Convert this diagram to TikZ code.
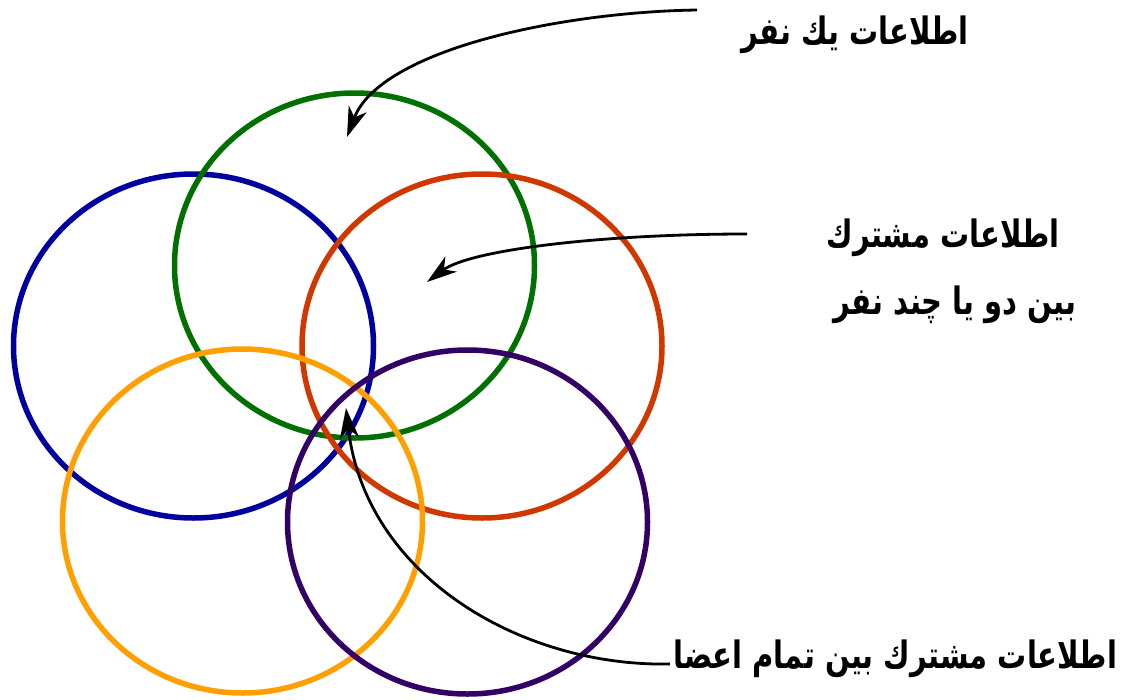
\documentclass[tikz,border=0pt]{standalone}
\usepackage{fontspec}
\usetikzlibrary{arrows.meta}
\TeXXeTstate=1
\newfontfamily\arabicfont[Script=Arabic]{DejaVu Sans}
\definecolor{cblue}{RGB}{0,0,160}
\definecolor{cgreen}{RGB}{0,112,0}
\definecolor{cred}{RGB}{208,56,0}
\definecolor{corange}{RGB}{255,160,0}
\definecolor{cpurple}{RGB}{51,0,102}
\tikzset{
  ring/.style={line width=5.5pt},
  lbl/.style={font=\arabicfont\bfseries\fontsize{29}{34}\selectfont, inner sep=0pt, yscale=1.3},
  pointer/.style={line width=2.8pt, -{Stealth[length=30pt,width=19pt,inset=9pt]}},
}
\begin{document}
\begin{tikzpicture}[x=1pt,y=-1pt]
\useasboundingbox (0,0) rectangle (1124,699);
\draw[ring,cblue] (193.5,346) ellipse [x radius=180, y radius=172];
\draw[ring,cgreen] (354.5,265.5) ellipse [x radius=180, y radius=172.5];
\draw[ring,cred] (482,346) ellipse [x radius=180, y radius=172];
\draw[ring,corange] (242.5,521) ellipse [x radius=180, y radius=172];
\draw[ring,cpurple] (467.5,522) ellipse [x radius=180, y radius=172];
\node[lbl] (l1) at (855,35) {\beginR اطلاعات يك نفر\endR};
\node[lbl] (l2a) at (943,238) {\beginR اطلاعات مشترك\endR};
\node[lbl] (l2b) at (955,305) {\beginR بين دو يا چند نفر\endR};
\node[lbl,anchor=base west] (l3) at (673,668) {\beginR اطلاعات مشترك بين تمام اعضا\endR};
\coordinate (s1) at (697,10);
\coordinate (t1) at (347,137);
\coordinate (s2) at (747,234);
\coordinate (t2) at (427,282);
\coordinate (t3) at (346,408);
\draw[pointer] (s1) .. controls (560,12) and (380,50) .. (t1);
\draw[pointer] (s2) .. controls (600,234) and (470,250) .. (t2);
\draw[pointer] ([shift={(-3,-4)}]l3.base west) .. controls (520,667) and (365,575) .. (t3);
\end{tikzpicture}
\end{document}
